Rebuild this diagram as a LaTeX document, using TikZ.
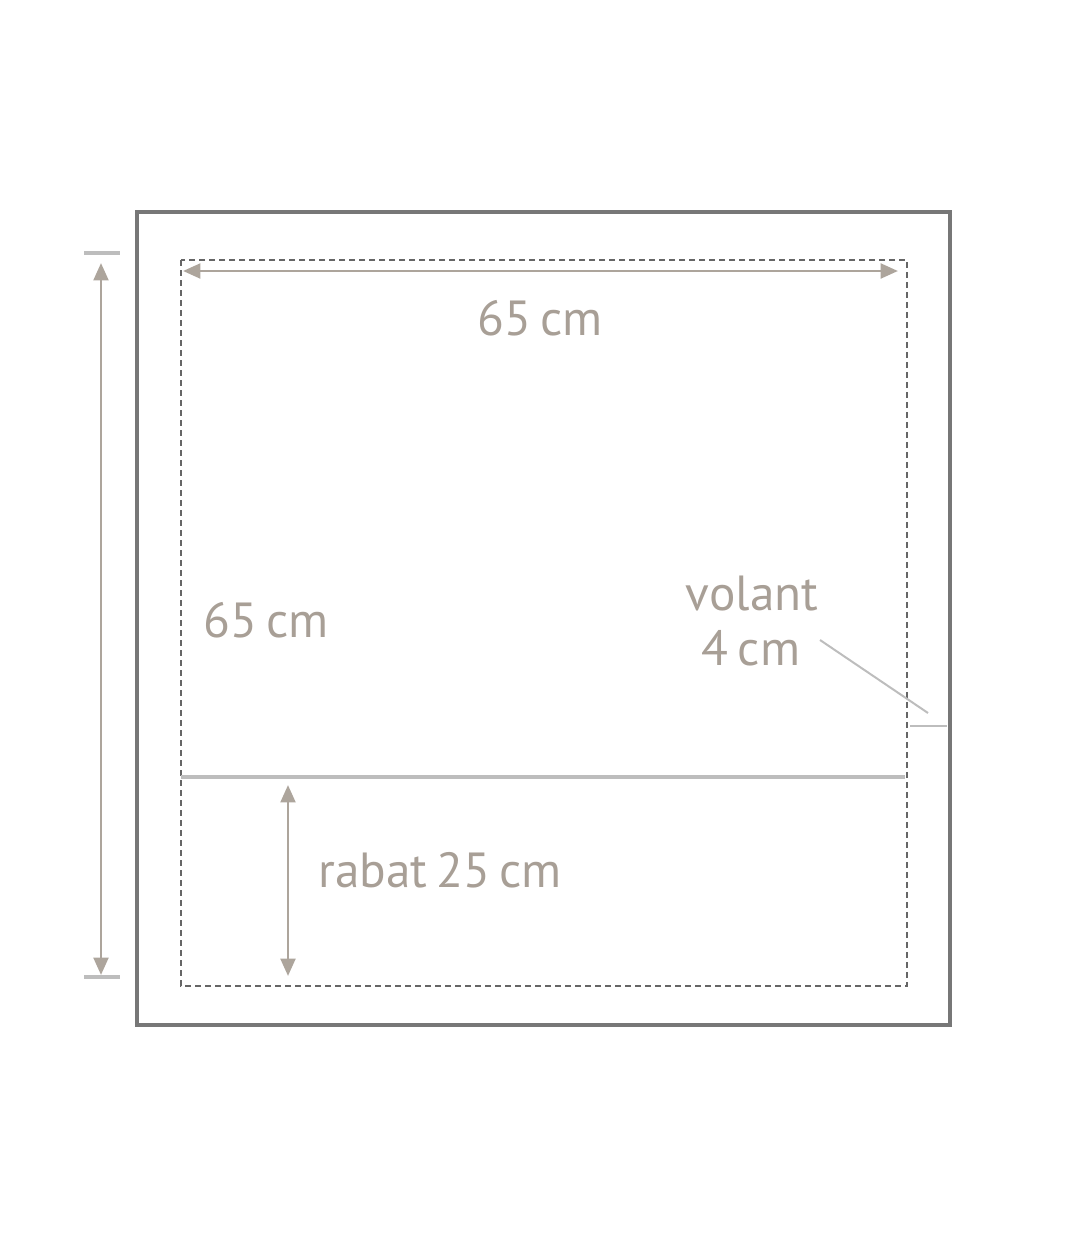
\documentclass[tikz,border=0pt]{standalone}
\usepackage{fontspec}
\setmainfont{PT Sans}[WordSpace=0.7]
\usetikzlibrary{arrows.meta}
\definecolor{frame}{HTML}{777777}
\definecolor{dash}{HTML}{666666}
\definecolor{taupe}{HTML}{ADA59C}
\definecolor{txt}{HTML}{A89F96}
\definecolor{lgray}{HTML}{BDBDBD}
\begin{document}
\begin{tikzpicture}[x=0.75pt,y=-0.75pt,
  outerbox/.style={draw=frame,line width=2.4pt},
  dashbox/.style={draw=dash,line width=1pt,dash pattern=on 4.5pt off 3pt},
  dimarrow/.style={draw=taupe,line width=2.2pt,{Triangle[length=13pt,width=11pt]}-{Triangle[length=13pt,width=11pt]}},
  tickline/.style={draw=lgray,line width=2.4pt},
  leader/.style={draw=lgray,line width=1.5pt},
  lbl/.style={text=txt,font=\fontsize{37}{39}\selectfont,inner sep=0pt}]
\useasboundingbox (0,0) rectangle (1080,1242);
\draw[outerbox] (137,212) rectangle (950,1025);
\draw[dashbox] (181,260) rectangle (907,986);
% width dimension
\coordinate (wl) at (183,271);
\coordinate (wr) at (898,271);
\draw[dimarrow] (wl) -- (wr);
\node[lbl] (w) at (540,318) {65 cm};
% height dimension
\coordinate (tt) at (101,263);
\coordinate (tb) at (101,975);
\draw[tickline] (84,253) -- (120,253);
\draw[tickline] (84,977) -- (120,977);
\draw[dimarrow] (tt) -- (tb);
\node[lbl] (h) at (266,620) {65 cm};
% flap line
\coordinate (fl) at (181,777);
\coordinate (fr) at (905,777);
\draw[tickline] (fl) -- (fr);
\coordinate (ra) at (288,785);
\coordinate (rb) at (288,976);
\draw[dimarrow] (ra) -- (rb);
\node[lbl,anchor=west] (r) at (318,870) {rabat 25 cm};
% volant
\node[lbl] (v1) at (752,594) {volant};
\node[lbl] (v2) at (751,648) {4 cm};
\coordinate (la) at (820,640);
\coordinate (lb) at (928,713);
\draw[leader] (la) -- (lb);
\coordinate (ma) at (910,726);
\coordinate (mb) at (947,726);
\draw[leader] (ma) -- (mb);
\end{tikzpicture}
\end{document}
